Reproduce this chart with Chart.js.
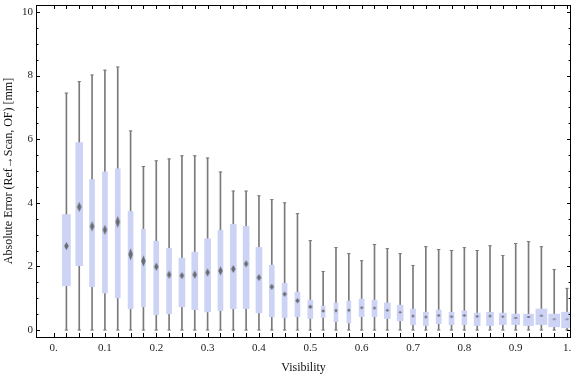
<!DOCTYPE html>
<html>
<head>
<meta charset="utf-8">
<script src="https://cdn.jsdelivr.net/npm/chart.js@4.4.1/dist/chart.umd.min.js"></script>
<style>
  html, body { margin: 0; padding: 0; background: #fff; }
</style>
</head>
<body>
<canvas id="chart" width="576" height="377"></canvas>
<script>
// bin centres (visibility)
const visibility = [0.025, 0.05, 0.075, 0.1, 0.125, 0.15, 0.175, 0.2, 0.225, 0.25,
  0.275, 0.3, 0.325, 0.35, 0.375, 0.4, 0.425, 0.45, 0.475, 0.5,
  0.525, 0.55, 0.575, 0.6, 0.625, 0.65, 0.675, 0.7, 0.725, 0.75,
  0.775, 0.8, 0.825, 0.85, 0.875, 0.9, 0.925, 0.95, 0.975, 1.0];

const whiskerMin = [0, 0, 0, 0, 0, 0, 0, 0, 0, 0, 0, 0, 0, 0, 0, 0, 0, 0, 0, 0,
  0, 0, 0, 0, 0, 0, 0, 0, 0, 0, 0, 0, 0, 0, 0, 0, 0, 0, 0, 0];
const quartile1 = [1.39, 2.02, 1.36, 1.16, 1.01, 0.67, 0.73, 0.48, 0.51, 0.73,
  0.64, 0.57, 0.61, 0.67, 0.67, 0.54, 0.42, 0.39, 0.42, 0.36,
  0.39, 0.26, 0.22, 0.42, 0.42, 0.36, 0.29, 0.17, 0.14, 0.20,
  0.17, 0.17, 0.14, 0.14, 0.17, 0.17, 0.14, 0.17, 0.10, 0.07];
const medians = [2.64, 3.87, 3.26, 3.15, 3.40, 2.38, 2.17, 1.99, 1.74, 1.71,
  1.74, 1.81, 1.86, 1.92, 2.08, 1.65, 1.36, 1.13, 0.92, 0.73,
  0.60, 0.61, 0.62, 0.70, 0.69, 0.62, 0.56, 0.44, 0.41, 0.46,
  0.42, 0.46, 0.43, 0.44, 0.42, 0.38, 0.41, 0.45, 0.34, 0.34];
const quartile3 = [3.63, 5.89, 4.73, 4.97, 5.07, 3.73, 3.17, 2.79, 2.57, 2.26,
  2.45, 2.87, 3.13, 3.32, 3.26, 2.60, 2.04, 1.47, 1.19, 0.94,
  0.75, 0.85, 0.91, 0.97, 0.94, 0.85, 0.78, 0.66, 0.56, 0.63,
  0.56, 0.60, 0.53, 0.56, 0.53, 0.50, 0.50, 0.66, 0.50, 0.56];
const whiskerMax = [7.45, 7.81, 8.02, 8.17, 8.27, 6.26, 5.14, 5.32, 5.38, 5.48,
  5.48, 5.41, 4.97, 4.37, 4.37, 4.22, 4.10, 4.00, 3.66, 2.81,
  1.84, 2.59, 2.40, 2.18, 2.69, 2.56, 2.40, 2.03, 2.62, 2.53,
  2.50, 2.59, 2.50, 2.65, 2.34, 2.72, 2.78, 2.62, 1.90, 1.31];

const xTickValues = [0, 0.1, 0.2, 0.3, 0.4, 0.5, 0.6, 0.7, 0.8, 0.9, 1];
const xTickLabels = ['0.', '0.1', '0.2', '0.3', '0.4', '0.5', '0.6', '0.7', '0.8', '0.9', '1.'];
const yTickValues = [0, 2, 4, 6, 8, 10];
const yTickLabels = ['0', '2', '4', '6', '8', '10'];

// look of each box (px)
const boxWidths = [8, 7, 5, 5, 5, 5, 4, 5, 5, 6, 6, 6, 5, 6, 6, 6, 5, 5, 5, 5,
  4, 4, 4, 5, 5, 6, 6, 5, 5, 5, 5, 5, 6, 7, 7, 8, 10, 11, 11, 11];
const medianHeights = [8, 10, 10, 10, 12, 12, 11, 8, 8, 7, 8, 8, 9, 8, 7, 7, 6, 5, 5, 4,
  3.5, 3.5, 3.5, 3, 3, 3, 2.5, 3, 3, 3, 3, 3, 3, 3, 2.5, 2, 2, 2, 1.6, 1.6];

const BOX = '#ccd3f5';
const WHISKER = '#7a7a7a';
const serif = 'Liberation Serif';

function diamond(w, h) {
  const c = document.createElement('canvas');
  c.width = Math.ceil(w) + 2;
  c.height = Math.ceil(h) + 2;
  const g = c.getContext('2d');
  const cx = c.width / 2, cy = c.height / 2;
  g.fillStyle = 'rgba(95,95,95,0.9)';
  g.beginPath();
  g.moveTo(cx, cy - h / 2);
  g.lineTo(cx + w / 2, cy);
  g.lineTo(cx, cy + h / 2);
  g.lineTo(cx - w / 2, cy);
  g.closePath();
  g.fill();
  return c;
}
const medianMarks = medianHeights.map((h, i) => diamond(i >= 35 ? 4.5 : (h < 4 ? 3.5 : 4.5), h));

const frame = {
  id: 'frame',
  afterDraw(chart) {
    const { ctx, chartArea: a, scales: { x, y } } = chart;
    ctx.save();
    ctx.strokeStyle = '#000';
    ctx.lineWidth = 1;
    ctx.beginPath();
    for (let k = 0; k <= 40; k++) {
      const px = Math.round(x.getPixelForValue(k * 0.025)) + 0.5;
      ctx.moveTo(px, a.bottom); ctx.lineTo(px, a.bottom - 4);
      ctx.moveTo(px, a.top); ctx.lineTo(px, a.top + 4);
    }
    for (let k = 0; k <= 20; k++) {
      const py = Math.round(y.getPixelForValue(k * 0.5)) + 0.5;
      const len = k % 4 === 0 ? 4 : 2.5;
      ctx.moveTo(a.left, py); ctx.lineTo(a.left + len, py);
      ctx.moveTo(a.right, py); ctx.lineTo(a.right - len, py);
    }
    ctx.stroke();
    ctx.strokeRect(a.left + 0.5, a.top + 0.5, a.width - 1, a.height);
    ctx.restore();
  }
};

const boxSets = visibility.map((v, i) => ({
  type: 'bar',
  data: [{ x: v, y: [quartile1[i], quartile3[i]] }],
  backgroundColor: BOX,
  borderWidth: 0,
  barThickness: boxWidths[i],
  grouped: false,
  order: 1
}));

new Chart(document.getElementById('chart'), {
  type: 'bar',
  data: {
    datasets: [
      {
        type: 'line',
        data: visibility.map((v, i) => ({ x: v, y: medians[i] })),
        showLine: false,
        pointStyle: c => medianMarks[c.dataIndex],
        pointRadius: 3,
        order: 0
      },
      ...boxSets,
      {
        type: 'line',
        data: visibility.flatMap((v, i) => [{ x: v, y: whiskerMin[i] }, { x: v, y: whiskerMax[i] }]),
        showLine: false,
        pointStyle: 'line',
        pointRadius: 1.7,
        borderColor: WHISKER,
        borderWidth: 1,
        order: 2
      },
      {
        type: 'bar',
        data: visibility.map((v, i) => ({ x: v, y: [whiskerMin[i], whiskerMax[i]] })),
        backgroundColor: WHISKER,
        borderWidth: 0,
        barThickness: 1,
        grouped: false,
        order: 3
      }
    ]
  },
  options: {
    responsive: false,
    animation: false,
    layout: { padding: { top: 4, right: 1, left: 0, bottom: 0 } },
    plugins: { legend: { display: false }, tooltip: { enabled: false } },
    scales: {
      x: {
        type: 'linear',
        min: -0.0342,
        max: 1.0077,
        offset: false,
        grid: { display: false, drawTicks: false },
        border: { display: false },
        afterBuildTicks: s => { s.ticks = xTickValues.map(v => ({ value: v })); },
        afterFit: s => { s.height = 40; s.paddingLeft = 0; s.paddingRight = 0; },
        ticks: {
          callback: (v, i) => xTickLabels[i],
          color: '#222',
          font: { family: serif, size: 11 },
          padding: 5,
          maxRotation: 0,
          autoSkip: false
        },
        title: {
          display: true,
          text: 'Visibility',
          color: '#111',
          font: { family: serif, size: 12 },
          padding: { top: 0, bottom: 2 }
        }
      },
      y: {
        min: -0.22,
        max: 10.22,
        grid: { display: false, drawTicks: false },
        border: { display: false },
        afterBuildTicks: s => { s.ticks = yTickValues.map(v => ({ value: v })); },
        afterFit: s => { s.width = 36; s.paddingTop = 0; s.paddingBottom = 0; },
        ticks: {
          callback: (v, i) => yTickLabels[i],
          color: '#222',
          font: { family: serif, size: 11 },
          padding: 3
        },
        title: {
          display: true,
          text: 'Absolute Error (Ref\u2192Scan, OF) [mm]',
          color: '#111',
          font: { family: serif, size: 12 },
          padding: { top: 2, bottom: 0 }
        }
      }
    }
  },
  plugins: [frame]
});
</script>
</body>
</html>
